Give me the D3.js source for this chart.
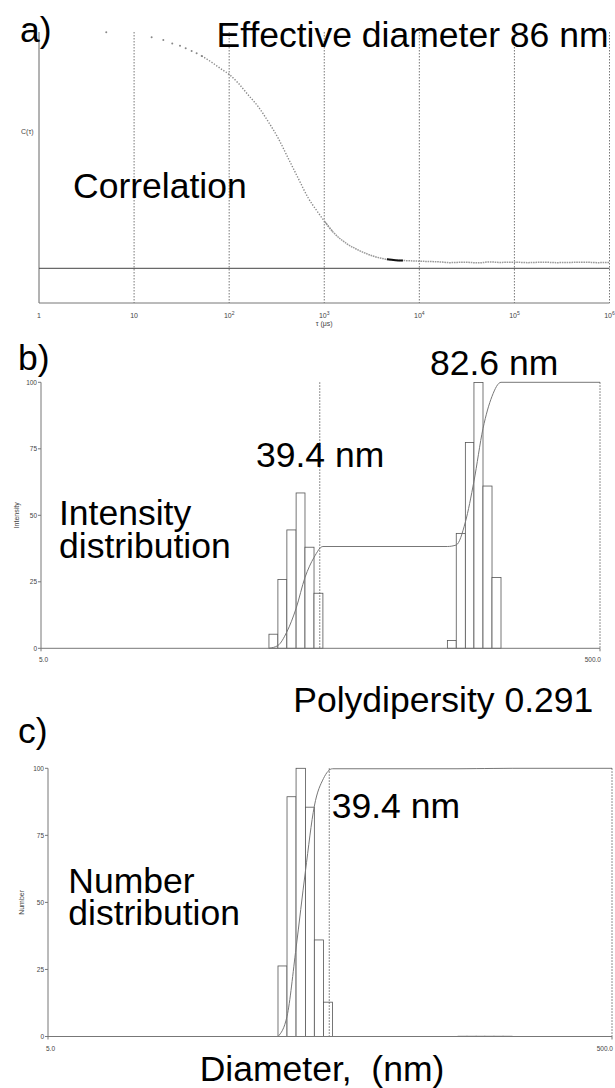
<!DOCTYPE html>
<html>
<head>
<meta charset="utf-8">
<script src="https://cdnjs.cloudflare.com/ajax/libs/d3/7.8.5/d3.min.js"></script>
<style>
  body { margin: 0; background: #fff; }
  svg { display: block; font-family: "Liberation Sans", Arial, sans-serif; }
  text { white-space: pre; }
</style>
</head>
<body>
<div id="fig"></div>
<script>
// a) correlation function, tau in microseconds
const corrTau = [5.1, 15.3, 20.3, 25.2, 30.4, 34.9, 40.3, 45.5, 51.4, 58.0, 65.5, 73.9, 83.4,
  102, 125, 159, 202, 258, 328, 418, 533, 674, 838, 1016, 1234, 1733, 2373, 3250, 4560, 5600, 6720,
  10150, 16470, 21000, 30000, 42000, 55000, 70000, 100000, 140000, 200000, 280000, 400000, 550000, 750000, 1000000];
const corrVal = [1.000, 0.979, 0.967, 0.953, 0.943, 0.932, 0.921, 0.911, 0.900, 0.887, 0.873, 0.858, 0.843,
  0.819, 0.784, 0.734, 0.685, 0.621, 0.551, 0.466, 0.381, 0.300, 0.243, 0.197, 0.154, 0.104, 0.074, 0.052, 0.038, 0.034, 0.033,
  0.030, 0.027, 0.024, 0.026, 0.023, 0.027, 0.025, 0.026, 0.024, 0.026, 0.024, 0.025, 0.026, 0.024, 0.025];
const tauTicks = [1, 10, 100, 1e3, 1e4, 1e5, 1e6];
const tauLabels = [["1", ""], ["10", ""], ["10", "2"], ["10", "3"], ["10", "4"], ["10", "5"], ["10", "6"]];

// b) and c) size distributions, bins in nm
const binLeft  = [32.7, 35.2, 37.9, 40.9, 44.0, 47.4, 142.2, 153.0, 164.9, 177.0, 190.7, 205.4];
const binRight = [35.2, 37.9, 40.9, 44.0, 47.4, 51.0, 153.0, 164.9, 177.0, 190.7, 205.4, 221.2];
const intensity = [5.3, 25.9, 44.5, 58.4, 38.0, 20.7, 2.9, 43.2, 77.4, 99.9, 61.0, 26.6];
const number    = [26.3, 89.4, 100, 85.5, 36.0, 12.8, 0.1, 0.1, 0.1, 0.1, 0.1, 0.1];
const pctTicks = [0, 25, 50, 75, 100];
const markerSize = 49.7;

const W = 615, H = 1088;
const svg = d3.select("#fig").append("svg").attr("width", W).attr("height", H);
svg.append("rect").attr("width", W).attr("height", H).attr("fill", "#fff");

const big = 35.5;
function bigText(x, y, s, anchor) {
  return svg.append("text").attr("x", x).attr("y", y).attr("font-size", big)
    .attr("text-anchor", anchor || "start").attr("fill", "#000").text(s);
}
// two line label in one text element
function bigText2(x, y, lines, dy) {
  const t = svg.append("text").attr("x", x).attr("y", y).attr("font-size", big).attr("fill", "#000");
  lines.forEach((s, i) => t.append("tspan").attr("x", x).attr("dy", i ? dy : 0).text(s));
  return t;
}

// ---------- panel a ----------
const ax = d3.scaleLog().domain([1, 1e6]).range([39, 609.5]);
const ay = d3.scaleLinear().domain([0, 1]).range([268.3, 32.3]);
const aTop = 32, aBot = 303;

const ga = svg.append("g");
ga.selectAll(".grid").data(tauTicks.slice(1)).enter().append("line")
  .attr("x1", d => ax(d)).attr("x2", d => ax(d)).attr("y1", aTop).attr("y2", aBot)
  .attr("stroke", "#555").attr("stroke-width", 0.8).attr("stroke-dasharray", "1.5,1.5");

ga.append("line").attr("x1", ax(1)).attr("x2", ax(1)).attr("y1", aTop).attr("y2", aBot)
  .attr("stroke", "#666").attr("stroke-width", 1);
ga.append("line").attr("x1", ax(1)).attr("x2", ax(1e6)).attr("y1", aBot).attr("y2", aBot)
  .attr("stroke", "#777").attr("stroke-width", 1);
ga.append("line").attr("x1", ax(1)).attr("x2", ax(1e6)).attr("y1", ay(0)).attr("y2", ay(0))
  .attr("stroke", "#444").attr("stroke-width", 1);

const corr = corrTau.map((t, i) => [t, corrVal[i]]);
// sparse early channels as single dots
ga.selectAll(".dot").data(corr.filter(d => d[0] < 55)).enter().append("circle")
  .attr("cx", d => ax(d[0])).attr("cy", d => ay(d[1])).attr("r", 1).attr("fill", "#888");
const cline = d3.line().x(d => ax(d[0])).y(d => ay(d[1])).curve(d3.curveMonotoneX);
ga.append("path").attr("d", cline(corr.filter(d => d[0] >= 51 && d[0] <= 1300))).attr("fill", "none")
  .attr("stroke", "#888").attr("stroke-width", 1.4).attr("stroke-dasharray", "1.3,1.6");
ga.append("path").attr("d", cline(corr.filter(d => d[0] >= 1000))).attr("fill", "none")
  .attr("stroke", "#999").attr("stroke-width", 1.5).attr("stroke-dasharray", "1.6,0.8");
ga.append("path").attr("d", cline(corr.filter(d => d[0] >= 4500 && d[0] <= 6800))).attr("fill", "none")
  .attr("stroke", "#111").attr("stroke-width", 2);

const tl = ga.selectAll(".tl").data(tauTicks).enter().append("text")
  .attr("x", d => ax(d)).attr("y", 318).attr("text-anchor", "middle")
  .attr("font-size", 7).attr("fill", "#444");
tl.append("tspan").text((d, i) => tauLabels[i][0]);
tl.append("tspan").attr("dy", -3).attr("font-size", 5).text((d, i) => tauLabels[i][1]);
ga.append("text").attr("x", ax(1000)).attr("y", 326).attr("text-anchor", "middle")
  .attr("font-size", 7).attr("fill", "#444").text("τ (μs)");
ga.append("text").attr("x", 21).attr("y", 134).attr("font-size", 7).attr("fill", "#444").text("C(τ)");

bigText(20, 42, "a)");
bigText(216.5, 46.7, "Effective diameter 86 nm");
bigText(73, 198.3, "Correlation");

// ---------- panels b, c ----------
function distPanel(o) {
  const x = d3.scaleLog().domain([5, 500]).range([o.left, o.right]);
  const y = d3.scaleLinear().domain([0, 100]).range([o.bottom, o.top]);
  const g = svg.append("g");

  g.selectAll("rect").data(o.vals).enter().append("rect")
    .attr("x", (d, i) => x(binLeft[i])).attr("width", (d, i) => x(binRight[i]) - x(binLeft[i]))
    .attr("y", d => y(d)).attr("height", d => y(0) - y(d))
    .attr("fill", "#fff").attr("stroke", "#555").attr("stroke-width", 0.8);

  const total = d3.sum(o.vals);
  const cum = Array.from(d3.cumsum(o.vals), v => v / total * 100);
  const pts = [[binLeft[0], 0]];
  o.vals.forEach((v, i) => {
    if (i > 0 && binLeft[i] !== binRight[i - 1]) pts.push([binLeft[i], cum[i - 1]]);
    pts.push([binRight[i], cum[i]]);
  });
  pts.push([500, 100]);
  g.append("path").attr("d", d3.line().x(d => x(d[0])).y(d => y(d[1])).curve(d3.curveMonotoneX)(pts))
    .attr("fill", "none").attr("stroke", "#777").attr("stroke-width", 1);

  [markerSize, 500].forEach(m => {
    g.append("line").attr("x1", x(m)).attr("x2", x(m)).attr("y1", o.top).attr("y2", o.bottom)
      .attr("stroke", "#444").attr("stroke-width", 0.8).attr("stroke-dasharray", "1.5,1.5");
  });

  g.append("line").attr("x1", o.left).attr("x2", o.left).attr("y1", o.top).attr("y2", o.bottom)
    .attr("stroke", "#777").attr("stroke-width", 1);
  g.append("line").attr("x1", o.left).attr("x2", o.right).attr("y1", o.bottom).attr("y2", o.bottom)
    .attr("stroke", "#777").attr("stroke-width", 1);
  g.selectAll(".yt").data(pctTicks).enter().append("line")
    .attr("x1", o.left - 3).attr("x2", o.left).attr("y1", d => y(d)).attr("y2", d => y(d))
    .attr("stroke", "#777");
  g.selectAll(".yl").data(pctTicks).enter().append("text")
    .attr("x", o.left - 4).attr("y", d => y(d) + 2.5).attr("text-anchor", "end")
    .attr("font-size", 6.5).attr("fill", "#444").text(d => d);
  [5, 500].forEach(m => {
    g.append("line").attr("x1", x(m)).attr("x2", x(m)).attr("y1", o.bottom).attr("y2", o.bottom + 3)
      .attr("stroke", "#777");
  });
  g.append("text").attr("x", o.left - 2).attr("y", o.bottom + 14).attr("font-size", 6.5)
    .attr("fill", "#444").text("5.0");
  g.append("text").attr("x", o.right + 1).attr("y", o.bottom + 14).attr("font-size", 6.5)
    .attr("text-anchor", "end").attr("fill", "#444").text("500.0");
  g.append("text").attr("transform", `translate(${o.labelX},${(o.top + o.bottom) / 2 + o.labelDy}) rotate(-90)`)
    .attr("text-anchor", "middle").attr("font-size", 7).attr("fill", "#444").text(o.yLabel);
}

distPanel({ left: 41, right: 600, top: 382.3, bottom: 648.3, vals: intensity,
  yLabel: "Intensity", labelX: 19, labelDy: 0 });
distPanel({ left: 48, right: 612, top: 768.3, bottom: 1036.5, vals: number,
  yLabel: "Number", labelX: 24, labelDy: 0 });

bigText(18, 370, "b)");
bigText(256, 466.7, "39.4 nm");
bigText(430, 375, "82.6 nm");
bigText2(59, 525, ["Intensity", "distribution"], 32.7);
bigText(293.3, 711.7, "Polydipersity 0.291");

bigText(18, 743, "c)");
bigText(331.7, 818.3, "39.4 nm");
bigText2(68.3, 893.3, ["Number", "distribution"], 31.7);
bigText(322, 1081, "Diameter,  (nm)", "middle");
</script>
</body>
</html>
